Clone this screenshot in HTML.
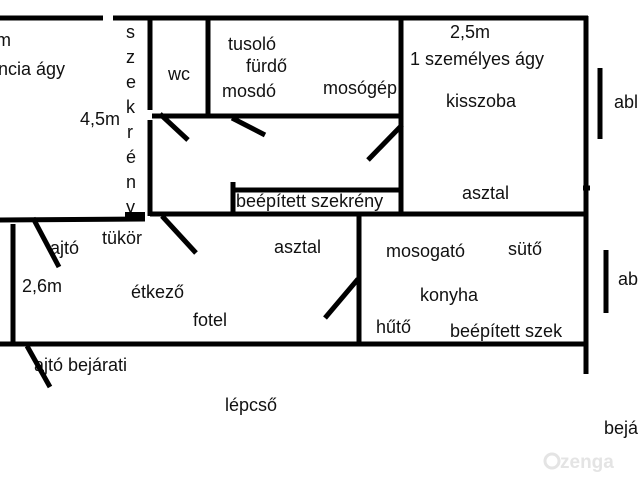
<!DOCTYPE html>
<html><head><meta charset="utf-8"><style>
html,body{margin:0;padding:0;background:#fff;}
svg{display:block;}
text{font-family:"Liberation Sans",sans-serif;font-size:18px;fill:#111;}
</style></head><body>
<svg width="640" height="480" viewBox="0 0 640 480" xmlns="http://www.w3.org/2000/svg">
<text x="-4" y="46">m</text>
<text x="-2" y="75">ncia ágy</text>
<text x="80" y="125">4,5m</text>
<text x="126" y="38">s</text>
<text x="126" y="63">z</text>
<text x="126" y="88">e</text>
<text x="126" y="113">k</text>
<text x="127" y="138">r</text>
<text x="126" y="163">é</text>
<text x="126" y="188">n</text>
<text x="126" y="213">y</text>
<text x="168" y="80">wc</text>
<text x="228" y="50">tusoló</text>
<text x="246" y="72">fürdő</text>
<text x="222" y="97">mosdó</text>
<text x="323" y="94">mosógép</text>
<text x="450" y="38">2,5m</text>
<text x="410" y="65">1 személyes ágy</text>
<text x="446" y="107">kisszoba</text>
<text x="462" y="199">asztal</text>
<text x="614" y="108">abl</text>
<text x="236" y="207">beépített szekrény</text>
<text x="102" y="244">tükör</text>
<text x="50" y="254">ajtó</text>
<text x="22" y="292">2,6m</text>
<text x="131" y="298">étkező</text>
<text x="193" y="326">fotel</text>
<text x="274" y="253">asztal</text>
<text x="386" y="257">mosogató</text>
<text x="508" y="255">sütő</text>
<text x="420" y="301">konyha</text>
<text x="376" y="333">hűtő</text>
<text x="450" y="337">beépített szek</text>
<text x="618" y="285">ab</text>
<text x="34" y="371">ajtó bejárati</text>
<text x="225" y="411">lépcső</text>
<text x="604" y="434">bejá</text>
<text x="560" y="468" style="font-size:19px;font-weight:bold;fill:#e4e4e4">zenga</text>
<circle cx="552" cy="461" r="7" fill="none" stroke="#e4e4e4" stroke-width="3"/>
<g stroke="#000" stroke-width="5" fill="none" stroke-linecap="butt">
<line x1="0" y1="18" x2="103" y2="18"/>
<line x1="113" y1="18" x2="588" y2="18"/>
<line x1="586" y1="16" x2="586" y2="374"/>
<line x1="150" y1="20" x2="150" y2="110"/>
<line x1="150" y1="120" x2="150" y2="216"/>
<line x1="208" y1="20" x2="208" y2="116"/>
<line x1="401" y1="20" x2="401" y2="213"/>
<line x1="152" y1="116" x2="401" y2="116"/>
<line x1="150" y1="214" x2="588" y2="214"/>
<line x1="0" y1="220" x2="145" y2="219"/>
<line x1="125" y1="216" x2="145" y2="216" stroke-width="8"/>
<line x1="13" y1="224" x2="13" y2="344"/>
<line x1="0" y1="344" x2="588" y2="344"/>
<line x1="359" y1="213" x2="359" y2="344"/>
<line x1="233" y1="182" x2="233" y2="216"/>
<line x1="233" y1="190" x2="400" y2="190"/>
<line x1="600" y1="68" x2="600" y2="139"/>
<line x1="606" y1="250" x2="606" y2="313"/>
<line x1="160" y1="114" x2="188" y2="140"/>
<line x1="232" y1="118" x2="265" y2="135"/>
<line x1="402" y1="125" x2="368" y2="160"/>
<line x1="33" y1="218" x2="59" y2="267"/>
<line x1="162" y1="216" x2="196" y2="253"/>
<line x1="358" y1="279" x2="325" y2="318"/>
<line x1="27" y1="346" x2="50" y2="387"/>
<line x1="583" y1="188" x2="590" y2="188"/>
</g>
</svg>
</body></html>
